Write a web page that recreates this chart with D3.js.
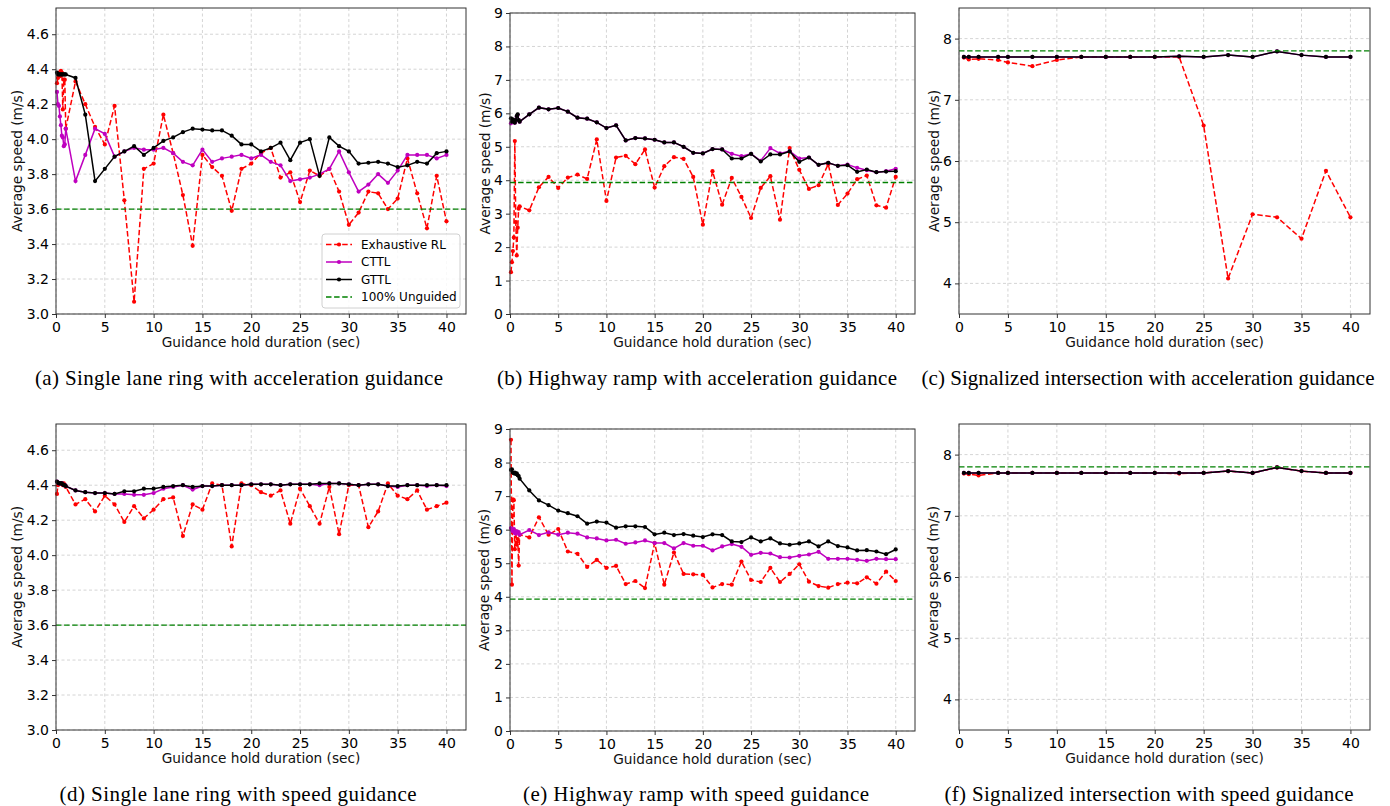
<!DOCTYPE html>
<html>
<head>
<meta charset="utf-8">
<script src="https://cdn.jsdelivr.net/npm/d3@7"></script>
<style>
body{margin:0;background:#fff}
svg{display:block}
.grid line{stroke:#c9c9c9;stroke-dasharray:3,2.5;stroke-width:0.8}
.caption{font-family:"Liberation Serif","Times New Roman",serif;font-size:21px}
.axlabel{font-family:"DejaVu Sans",sans-serif;font-size:13.7px;fill:#111}
</style>
</head>
<body>
<svg id="fig" width="1390" height="806"></svg>
<script>
// hold durations (sec)
var holdDense = [0.1,0.2,0.3,0.4,0.5,0.6,0.7,0.8,0.9,1,2,3,4,5,6,7,8,9,10,11,12,13,14,15,16,17,18,19,20,
  21,22,23,24,25,26,27,28,29,30,31,32,33,34,35,36,37,38,39,40];
var holdSignal = [0.5,1,2,4,5,7.5,10,12.5,15,17.5,20,22.5,25,27.5,30,32.5,35,37.5,40];

var xTicks = [0,5,10,15,20,25,30,35,40];
var ringTicks = [3.0,3.2,3.4,3.6,3.8,4.0,4.2,4.4,4.6];
var rampTicks = [0,1,2,3,4,5,6,7,8,9];
var signalTicks = [4,5,6,7,8];

var seriesNames = ["Exhaustive RL","CTTL","GTTL","100% Unguided"];

// (a) ring, acceleration
var ringAccelRL = [4.32,4.35,4.38,4.36,4.39,4.38,4.17,4.34,4.34,4.06,
  4.33,4.20,4.07,3.97,4.19,3.65,3.07,3.83,3.86,4.14,3.92,3.68,3.39,3.91,3.84,3.79,3.59,3.83,3.86,3.92,
  3.95,3.78,3.81,3.64,3.82,3.79,3.83,3.70,3.51,3.58,3.70,3.69,3.60,3.66,3.89,3.69,3.49,3.79,3.53];
var ringAccelCTTL = [4.27,4.20,4.19,4.13,4.08,4.02,4.01,3.96,3.97,4.06,
  3.76,3.91,4.06,4.03,3.90,3.93,3.95,3.94,3.94,3.95,3.92,3.87,3.85,3.94,3.87,3.89,3.90,3.91,3.89,3.91,
  3.87,3.85,3.76,3.77,3.78,3.80,3.83,3.93,3.81,3.70,3.74,3.80,3.75,3.82,3.91,3.91,3.91,3.89,3.91];
var ringAccelGTTL = [4.38,4.37,4.37,4.37,4.37,4.37,4.37,4.37,4.37,4.37,
  4.35,4.14,3.76,3.83,3.90,3.93,3.96,3.91,3.95,3.99,4.01,4.04,4.06,4.055,4.05,4.05,4.02,3.97,3.97,3.93,
  3.95,3.98,3.88,3.98,4.00,3.79,4.01,3.96,3.93,3.86,3.865,3.87,3.86,3.84,3.85,3.87,3.86,3.92,3.93];

// (b) ramp, acceleration
var rampAccelRL = [1.25,1.55,1.88,2.29,5.17,2.75,1.75,2.58,3.15,3.22,
  3.10,3.79,4.10,3.77,4.08,4.17,4.04,5.22,3.38,4.68,4.73,4.48,4.92,3.78,4.42,4.69,4.64,4.10,2.67,4.27,
  3.27,4.07,3.50,2.87,3.77,4.12,2.82,4.96,4.31,3.74,3.85,4.48,3.26,3.60,4.03,4.14,3.25,3.18,4.10];
var rampAccelCTTL = [5.70,5.74,5.80,5.76,5.72,5.79,5.90,5.95,5.80,5.75,
  5.97,6.17,6.12,6.16,6.05,5.87,5.84,5.73,5.56,5.64,5.19,5.26,5.25,5.21,5.13,5.13,5.00,4.82,4.80,4.93,
  4.92,4.79,4.72,4.79,4.58,4.96,4.80,4.87,4.65,4.68,4.46,4.52,4.43,4.47,4.37,4.30,4.24,4.27,4.34];
var rampAccelGTTL = [5.85,5.75,5.82,5.78,5.72,5.80,5.92,5.97,5.80,5.75,
  5.97,6.17,6.12,6.16,6.05,5.87,5.84,5.73,5.56,5.64,5.19,5.26,5.25,5.21,5.13,5.13,5.00,4.82,4.80,4.93,
  4.92,4.65,4.65,4.79,4.56,4.77,4.77,4.86,4.55,4.68,4.46,4.52,4.43,4.45,4.25,4.32,4.24,4.26,4.27];

// (c) signalized intersection, acceleration
var signalAccelRL = [7.69,7.66,7.67,7.65,7.61,7.55,7.65,7.70,7.70,7.70,7.70,7.70,6.58,4.08,5.13,5.08,4.73,5.84,5.08];
var signalAccelCTTL = [7.70,7.70,7.70,7.70,7.70,7.70,7.70,7.70,7.70,7.70,7.70,7.71,7.70,7.73,7.70,7.79,7.73,7.70,7.70];
var signalAccelGTTL = [7.70,7.70,7.70,7.70,7.70,7.70,7.70,7.70,7.70,7.70,7.70,7.71,7.70,7.73,7.70,7.79,7.73,7.70,7.70];

// (d) ring, speed
var ringSpeedRL = [4.35,4.40,4.41,4.41,4.41,4.41,4.40,4.41,4.40,4.39,
  4.29,4.32,4.25,4.34,4.29,4.19,4.28,4.21,4.26,4.32,4.33,4.11,4.29,4.26,4.41,4.40,4.05,4.41,4.40,4.36,
  4.34,4.37,4.18,4.38,4.28,4.18,4.39,4.12,4.40,4.40,4.16,4.25,4.41,4.34,4.32,4.37,4.26,4.28,4.30];
var ringSpeedCTTL = [4.42,4.415,4.41,4.41,4.41,4.41,4.405,4.40,4.40,4.395,
  4.37,4.36,4.355,4.355,4.35,4.35,4.345,4.345,4.355,4.38,4.39,4.40,4.375,4.395,4.395,4.40,4.40,4.40,4.405,4.405,
  4.405,4.40,4.405,4.405,4.405,4.40,4.41,4.41,4.405,4.40,4.405,4.405,4.395,4.39,4.40,4.40,4.395,4.40,4.395];
var ringSpeedGTTL = [4.42,4.415,4.41,4.41,4.41,4.41,4.405,4.40,4.40,4.395,
  4.37,4.36,4.355,4.355,4.35,4.365,4.365,4.38,4.38,4.39,4.395,4.40,4.39,4.395,4.395,4.40,4.40,4.40,4.405,4.405,
  4.405,4.40,4.405,4.405,4.405,4.41,4.41,4.41,4.405,4.40,4.405,4.405,4.395,4.395,4.40,4.40,4.40,4.40,4.40];

// (e) ramp, speed
var rampSpeedRL = [8.68,4.36,6.90,6.88,5.42,5.95,5.55,5.72,4.93,5.85,
  5.77,6.37,5.85,6.02,5.35,5.28,4.89,5.10,4.86,4.92,4.38,4.47,4.26,5.60,4.36,5.32,4.68,4.67,4.65,4.28,
  4.38,4.36,5.05,4.50,4.44,4.86,4.44,4.68,4.97,4.45,4.32,4.27,4.38,4.42,4.40,4.58,4.39,4.75,4.47];
var rampSpeedCTTL = [6.05,6.00,5.95,6.02,5.90,5.88,5.95,5.92,5.93,5.85,
  5.99,5.84,5.92,5.85,5.91,5.88,5.77,5.74,5.68,5.70,5.58,5.62,5.68,5.60,5.60,5.44,5.60,5.52,5.52,5.38,
  5.50,5.57,5.49,5.25,5.31,5.29,5.18,5.17,5.22,5.26,5.34,5.13,5.13,5.13,5.10,5.07,5.13,5.12,5.12];
var rampSpeedGTTL = [7.78,7.80,7.70,7.68,7.70,7.66,7.68,7.62,7.60,7.52,
  7.17,6.87,6.73,6.57,6.49,6.40,6.18,6.24,6.21,6.06,6.10,6.10,6.08,5.86,5.91,5.84,5.87,5.82,5.78,5.86,
  5.84,5.65,5.63,5.77,5.65,5.74,5.59,5.55,5.59,5.65,5.50,5.65,5.51,5.47,5.38,5.39,5.35,5.27,5.41];

// (f) signalized intersection, speed
var signalSpeedRL = [7.69,7.68,7.66,7.70,7.70,7.70,7.70,7.70,7.70,7.70,7.70,7.69,7.70,7.73,7.70,7.79,7.73,7.70,7.70];
var signalSpeedCTTL = [7.70,7.70,7.70,7.70,7.70,7.70,7.70,7.70,7.70,7.70,7.70,7.70,7.70,7.73,7.70,7.79,7.73,7.70,7.70];
var signalSpeedGTTL = [7.70,7.70,7.70,7.70,7.70,7.70,7.70,7.70,7.70,7.70,7.70,7.70,7.70,7.73,7.70,7.79,7.73,7.70,7.70];

// unguided baselines
var ringUnguided = 3.60;
var rampUnguided = 3.93;
var signalUnguided = 7.80;

var captions = [
  "(a) Single lane ring with acceleration guidance",
  "(b) Highway ramp with acceleration guidance",
  "(c) Signalized intersection with acceleration guidance",
  "(d) Single lane ring with speed guidance",
  "(e) Highway ramp with speed guidance",
  "(f) Signalized intersection with speed guidance"
];

var RED = "#ff0000", MAG = "#bf00bf", BLK = "#000000", GRN = "#008000";

var svg = d3.select("#fig");

// layout: box = [left, top, right, bottom]
var panels = [
  {box:[56,8,466,314], yDomain:[3,4.75], yTicks:ringTicks, fmt:".1f", xs:holdDense,
   rl:ringAccelRL, cttl:ringAccelCTTL, gttl:ringAccelGTTL, unguided:ringUnguided,
   yLabelX:17, cap:captions[0], capX:239, capY:385, capW:408, legend:true},
  {box:[510,13,915,314], yDomain:[0,9], yTicks:rampTicks, fmt:"d", xs:holdDense,
   rl:rampAccelRL, cttl:rampAccelCTTL, gttl:rampAccelGTTL, unguided:rampUnguided,
   yLabelX:485, cap:captions[1], capX:697, capY:385, capW:400},
  {box:[959,8,1370,314], yDomain:[3.5,8.5], yTicks:signalTicks, fmt:"d", xs:holdSignal,
   rl:signalAccelRL, cttl:signalAccelCTTL, gttl:signalAccelGTTL, unguided:signalUnguided,
   yLabelX:934, cap:captions[2], capX:1148, capY:385, capW:453},
  {box:[56,424,466,730], yDomain:[3,4.75], yTicks:ringTicks, fmt:".1f", xs:holdDense,
   rl:ringSpeedRL, cttl:ringSpeedCTTL, gttl:ringSpeedGTTL, unguided:ringUnguided,
   yLabelX:17, cap:captions[3], capX:238, capY:801, capW:357},
  {box:[510,429,915,731], yDomain:[0,9], yTicks:rampTicks, fmt:"d", xs:holdDense,
   rl:rampSpeedRL, cttl:rampSpeedCTTL, gttl:rampSpeedGTTL, unguided:rampUnguided,
   yLabelX:484, cap:captions[4], capX:696, capY:801, capW:346},
  {box:[959,424,1370,730], yDomain:[3.5,8.5], yTicks:signalTicks, fmt:"d", xs:holdSignal,
   rl:signalSpeedRL, cttl:signalSpeedCTTL, gttl:signalSpeedGTTL, unguided:signalUnguided,
   yLabelX:933, cap:captions[5], capX:1149, capY:801, capW:409}
];

function styleAxis(ax){
  ax.select(".domain").remove();
  ax.attr("font-family","DejaVu Sans").attr("font-size",14);
  ax.selectAll(".tick line").attr("stroke","#333");
  ax.selectAll(".tick text").attr("fill","#000");
}

function drawPanel(p){
  var l = p.box[0], t = p.box[1], r = p.box[2], b = p.box[3];
  var x = d3.scaleLinear().domain([0,42]).range([l,r]);
  var y = d3.scaleLinear().domain(p.yDomain).range([b,t]);
  var g = svg.append("g");

  g.append("g").attr("class","grid").selectAll("line").data(xTicks).join("line")
    .attr("x1",function(d){return x(d)}).attr("x2",function(d){return x(d)})
    .attr("y1",t).attr("y2",b);
  g.append("g").attr("class","grid").selectAll("line").data(p.yTicks).join("line")
    .attr("x1",l).attr("x2",r)
    .attr("y1",function(d){return y(d)}).attr("y2",function(d){return y(d)});

  var xa = g.append("g").attr("transform","translate(0,"+b+")")
    .call(d3.axisBottom(x).tickValues(xTicks).tickFormat(d3.format("d")).tickSize(4).tickPadding(4));
  styleAxis(xa);
  var ya = g.append("g").attr("transform","translate("+l+",0)")
    .call(d3.axisLeft(y).tickValues(p.yTicks).tickFormat(d3.format(p.fmt)).tickSize(4).tickPadding(3));
  styleAxis(ya);

  var series = [
    {v:p.rl, color:RED, dash:"5.5,2.6"},
    {v:p.cttl, color:MAG, dash:null},
    {v:p.gttl, color:BLK, dash:null}
  ];
  series.forEach(function(s){
    var pts = p.xs.map(function(h,i){return [h, s.v[i]]});
    g.append("path").datum(pts)
      .attr("fill","none").attr("stroke",s.color).attr("stroke-width",1.5)
      .attr("stroke-dasharray",s.dash)
      .attr("d", d3.line().x(function(d){return x(d[0])}).y(function(d){return y(d[1])}));
    g.append("g").selectAll("circle").data(pts).join("circle")
      .attr("cx",function(d){return x(d[0])}).attr("cy",function(d){return y(d[1])})
      .attr("r",2.1).attr("fill",s.color);
  });

  g.append("line").attr("x1",l).attr("x2",r)
    .attr("y1",y(p.unguided)).attr("y2",y(p.unguided))
    .attr("stroke",GRN).attr("stroke-width",1.4).attr("stroke-dasharray","5.5,2.6");

  g.append("rect").attr("x",l).attr("y",t).attr("width",r-l).attr("height",b-t)
    .attr("fill","none").attr("stroke","#333").attr("stroke-width",1);

  g.append("text").attr("class","axlabel").attr("text-anchor","middle")
    .attr("x",(l+r)/2).attr("y",b+33).text("Guidance hold duration (sec)");
  g.append("text").attr("class","axlabel").attr("text-anchor","middle")
    .attr("dominant-baseline","central")
    .attr("transform","translate("+p.yLabelX+","+((t+b)/2)+") rotate(-90)")
    .text("Average speed (m/s)");

  g.append("text").attr("class","caption").attr("text-anchor","middle")
    .attr("x",p.capX).attr("y",p.capY)
    .attr("textLength",p.capW).attr("lengthAdjust","spacing")
    .text(p.cap);

  if(p.legend){
    var lg = g.append("g").attr("transform","translate("+(r-144)+","+(b-80)+")");
    lg.append("rect").attr("width",138).attr("height",74).attr("rx",3)
      .attr("fill","#fff").attr("fill-opacity",0.85).attr("stroke","#d0d0d0");
    var items = [
      {c:RED, dash:"5.5,2.6", marker:true},
      {c:MAG, dash:null, marker:true},
      {c:BLK, dash:null, marker:true},
      {c:GRN, dash:"5.5,2.6", marker:false}
    ];
    items.forEach(function(it,i){
      var yy = 10.5 + i*17.5;
      lg.append("line").attr("x1",4).attr("x2",30).attr("y1",yy).attr("y2",yy)
        .attr("stroke",it.c).attr("stroke-width",1.5).attr("stroke-dasharray",it.dash);
      if(it.marker) lg.append("circle").attr("cx",17).attr("cy",yy).attr("r",2.1).attr("fill",it.c);
      lg.append("text").attr("x",39).attr("y",yy).attr("dy","0.35em")
        .attr("font-family","DejaVu Sans").attr("font-size",12).text(seriesNames[i]);
    });
  }
}

panels.forEach(drawPanel);
</script>
</body>
</html>
